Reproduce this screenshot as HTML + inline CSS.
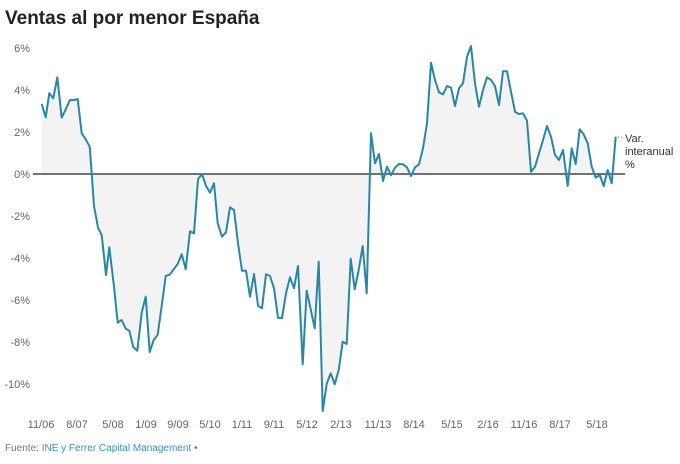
<!DOCTYPE html>
<html><head><meta charset="utf-8"><style>
body{margin:0;background:#fff;width:680px;height:459px;overflow:hidden;font-family:"Liberation Sans",sans-serif}
</style></head><body>
<svg width="680" height="459" xmlns="http://www.w3.org/2000/svg" font-family="Liberation Sans, sans-serif">
<text x="5" y="24" font-size="19" font-weight="bold" fill="#222">Ventas al por menor España</text>
<g font-size="11" fill="#666" text-anchor="end">
<text x="30" y="52">6%</text><text x="30" y="94">4%</text><text x="30" y="136">2%</text><text x="30" y="178">0%</text>
<text x="30" y="220">-2%</text><text x="30" y="262">-4%</text><text x="30" y="304">-6%</text><text x="30" y="346">-8%</text><text x="30" y="388">-10%</text>
</g>
<g font-size="11" fill="#666" text-anchor="middle">
<text x="41" y="428">11/06</text><text x="77" y="428">8/07</text><text x="113" y="428">5/08</text><text x="146" y="428">1/09</text><text x="178" y="428">9/09</text><text x="210" y="428">5/10</text><text x="242" y="428">1/11</text><text x="274" y="428">9/11</text><text x="307" y="428">5/12</text><text x="341" y="428">2/13</text><text x="378" y="428">11/13</text><text x="414" y="428">8/14</text><text x="452" y="428">5/15</text><text x="488" y="428">2/16</text><text x="524" y="428">11/16</text><text x="560" y="428">8/17</text><text x="597" y="428">5/18</text>
</g>
<polygon fill="#f3f3f3" points="41.7,174 41.7,104 45.7,117.3 49.3,93.3 53.3,98.3 57.3,77.3 61.7,117.7 65.7,109.3 70,100 74,100 77.7,99 81.7,133.3 85.7,139.3 89.7,146.7 91.7,173.3 94,206 98,227.7 101.7,235 106,275 109.3,247.3 114,286.7 117.7,322.7 121.7,320 125.7,328.7 129.3,330.7 133.3,347.3 137.3,350.7 141.7,312.7 145.7,296.7 149.7,352 153.7,340 157.7,334.7 161.7,306 165.7,276 169.7,274.7 173.7,269.3 177.7,264 181.7,254.3 185.7,269.3 190,231.3 194,233.3 198,179.3 202,174 206,186 210,192.7 214,183.3 217.7,223.3 222,236.7 226,232.3 230,207.3 234,210 238,243.3 242,270.7 246,270.7 250,296.7 254,274 258,305.7 262,308.3 266,274.3 270,276 274,288.3 278,317.7 282,318.3 286,293.3 290,277.3 294,288.3 298,266 302.7,364.3 306.7,290.7 310.7,309.3 314.7,328.3 318.7,261.7 322.7,411 326.7,384 330.7,373.3 334.7,384.3 338.7,370 342.7,341.7 346.7,344 350.7,258.7 354.7,289.3 358.7,270 362.7,246 366.7,293.3 371,133.3 375,163.3 379,154 383,181 387,166.7 391,175.3 395,167.7 399,164 403,164.3 407,167.3 411,176 415,167.3 419,164.3 423,148.3 427,123.3 431,62.7 435,80 439,92.3 443,94.3 447,86 451,87.7 455,106 459,88.3 463,83.3 467,56.7 471,46 475,83.3 479,106.7 483,90 487,77.3 491,80 495,86 499,105 503,71.3 507,71.3 511,91.7 515,111.7 519,114 523,113.3 527,120.7 531,171.7 535,166.7 539,153.3 543,140 547,126 551,136.7 555,155 559,160 563,150 567.7,186 571.7,148.3 575.7,164 579.7,129.3 583.7,134.3 587.7,143.3 591.7,166.7 595.7,177.7 599.7,175 603.7,186 607.7,170 611.7,183.3 615.7,136.7 615.7,174"/>
<line x1="33" y1="174" x2="625" y2="174" stroke="#222" stroke-width="1.3"/>
<polyline fill="none" stroke="#2a86a6" stroke-width="2" stroke-linejoin="round" points="41.7,104 45.7,117.3 49.3,93.3 53.3,98.3 57.3,77.3 61.7,117.7 65.7,109.3 70,100 74,100 77.7,99 81.7,133.3 85.7,139.3 89.7,146.7 91.7,173.3 94,206 98,227.7 101.7,235 106,275 109.3,247.3 114,286.7 117.7,322.7 121.7,320 125.7,328.7 129.3,330.7 133.3,347.3 137.3,350.7 141.7,312.7 145.7,296.7 149.7,352 153.7,340 157.7,334.7 161.7,306 165.7,276 169.7,274.7 173.7,269.3 177.7,264 181.7,254.3 185.7,269.3 190,231.3 194,233.3 198,179.3 202,174 206,186 210,192.7 214,183.3 217.7,223.3 222,236.7 226,232.3 230,207.3 234,210 238,243.3 242,270.7 246,270.7 250,296.7 254,274 258,305.7 262,308.3 266,274.3 270,276 274,288.3 278,317.7 282,318.3 286,293.3 290,277.3 294,288.3 298,266 302.7,364.3 306.7,290.7 310.7,309.3 314.7,328.3 318.7,261.7 322.7,411 326.7,384 330.7,373.3 334.7,384.3 338.7,370 342.7,341.7 346.7,344 350.7,258.7 354.7,289.3 358.7,270 362.7,246 366.7,293.3 371,133.3 375,163.3 379,154 383,181 387,166.7 391,175.3 395,167.7 399,164 403,164.3 407,167.3 411,176 415,167.3 419,164.3 423,148.3 427,123.3 431,62.7 435,80 439,92.3 443,94.3 447,86 451,87.7 455,106 459,88.3 463,83.3 467,56.7 471,46 475,83.3 479,106.7 483,90 487,77.3 491,80 495,86 499,105 503,71.3 507,71.3 511,91.7 515,111.7 519,114 523,113.3 527,120.7 531,171.7 535,166.7 539,153.3 543,140 547,126 551,136.7 555,155 559,160 563,150 567.7,186 571.7,148.3 575.7,164 579.7,129.3 583.7,134.3 587.7,143.3 591.7,166.7 595.7,177.7 599.7,175 603.7,186 607.7,170 611.7,183.3 615.7,136.7"/>
<line x1="618" y1="137" x2="623" y2="137" stroke="#2a86a6" stroke-width="1" stroke-dasharray="1,2"/>
<g font-size="11" fill="#333"><text x="625" y="142">Var.</text><text x="625" y="155">interanual</text><text x="625" y="168">%</text></g>
<text x="5" y="451" font-size="10" fill="#777">Fuente: <tspan fill="#3a8fc8">INE y Ferrer Capital Management</tspan> •</text>
</svg>
</body></html>
